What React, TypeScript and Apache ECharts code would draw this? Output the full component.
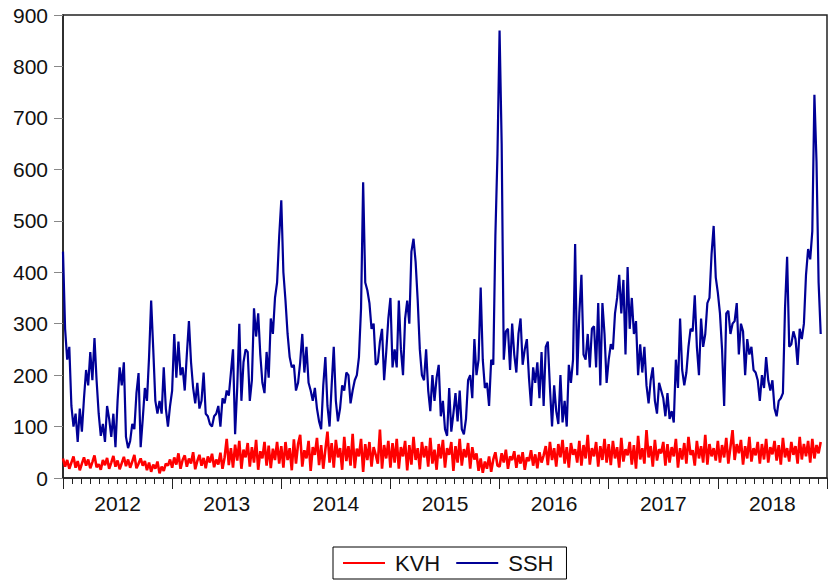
import React, { useEffect, useRef } from "react";
import * as echarts from "echarts";

// Weekly readings (approximate) per year
const ssh2012 = [440,290,230,255,140,100,125,70,135,90,155,210,180,245,190,272,190,125,82,105,70,140,115,80,125,60,150,215,180,225,80,58,72,105,95,165,204,60,115,175,150,235,345,250,150,125,150,125,215,135,100,140];
const ssh2013 = [170,280,195,265,200,215,170,240,305,225,175,145,185,135,150,205,125,120,105,100,120,125,140,100,155,145,170,160,205,250,85,175,300,150,225,250,245,150,190,330,275,320,240,185,165,245,195,310,280,350,380,470];
const ssh2014 = [540,400,345,280,235,215,220,170,185,225,280,205,255,185,170,150,175,135,110,95,180,235,140,100,180,255,150,110,135,180,170,205,200,145,170,190,200,235,330,575,380,365,340,290,300,220,225,265,290,190,245,310];
const ssh2015 = [350,215,250,215,345,250,200,310,345,300,440,465,420,345,250,200,190,250,170,130,200,150,195,220,120,150,95,82,175,90,125,165,110,170,95,85,115,190,200,155,270,200,230,370,230,175,185,140,230,220,470,630];
const ssh2016 = [870,650,230,285,290,210,300,240,205,280,310,220,250,270,195,140,215,185,225,155,245,140,255,265,175,100,180,130,105,200,108,150,100,220,185,230,455,200,320,395,240,230,280,215,290,295,215,340,180,340,280,185];
const ssh2017 = [230,260,250,320,350,395,320,385,240,410,290,350,280,305,200,260,205,255,180,145,190,215,150,125,185,170,155,120,165,115,130,108,230,175,310,210,180,205,255,290,285,355,255,200,310,255,280,340,350,435,490,390];
const ssh2018 = [360,320,250,140,320,325,280,300,305,340,240,300,285,200,270,240,255,210,205,190,150,200,175,235,190,170,190,135,120,150,155,165,330,430,255,260,285,270,220,290,270,300,395,445,425,480,745,615,380,280];

const kvh2012 = [38,22,35,18,30,42,20,33,15,28,40,24,36,19,31,44,21,27,16,35,25,39,18,30,43,22,34,17,29,41,23,36,20,32,45,19,28,38,24,33,15,30,12,26,18,32,9,22,14,28,24,36];
const kvh2013 = [20,40,26,48,18,35,44,22,38,28,50,17,33,45,24,39,19,42,30,47,21,36,26,49,18,40,76,25,58,20,65,34,72,18,55,40,68,22,60,30,74,16,52,38,70,24,63,19,57,35,70,28];
const kvh2014 = [62,20,70,35,58,15,75,28,66,84,22,54,38,72,14,60,45,78,25,64,18,55,90,30,68,20,74,40,58,16,80,33,62,24,86,19,57,42,76,12,66,35,70,22,60,45,28,94,18,64,38,72];
const kvh2015 = [20,68,30,76,18,60,42,72,15,64,26,80,35,58,17,70,40,62,22,78,28,55,16,66,38,74,20,58,45,70,14,62,30,76,24,56,40,68,18,60,36,48,14,38,10,32,18,42,12,36,50,24];
const kvh2016 = [22,48,30,55,18,42,35,52,20,45,28,50,16,40,33,54,24,46,19,50,30,44,62,25,70,35,58,22,66,40,74,28,60,20,68,45,56,30,72,24,64,38,84,26,58,42,70,22,62,35,76,30];
const kvh2017 = [66,25,72,38,60,20,78,32,56,44,70,26,64,18,82,36,58,28,93,40,62,22,74,34,56,48,70,24,66,30,60,42,76,20,58,36,68,28,80,45,54,24,72,38,62,30,84,26,66,42,58,34];
const kvh2018 = [72,30,64,40,78,28,60,93,35,66,48,74,26,62,38,80,32,58,44,70,28,66,36,76,30,60,46,72,34,64,26,78,40,58,32,70,45,62,28,80,36,66,42,72,30,76,38,64,48,70];

const years = [2012, 2013, 2014, 2015, 2016, 2017, 2018];
const sshByYear = [ssh2012, ssh2013, ssh2014, ssh2015, ssh2016, ssh2017, ssh2018];
const kvhByYear = [kvh2012, kvh2013, kvh2014, kvh2015, kvh2016, kvh2017, kvh2018];

const yTicks = { min: 0, max: 900, interval: 100 };

function toPoints(byYear: number[][]): [number, number][] {
  const out: [number, number][] = [];
  byYear.forEach((arr, yi) => {
    arr.forEach((v, w) => out.push([years[yi] + w / 52, v]));
  });
  return out;
}

const FONT = "'Liberation Sans', Arial, Helvetica, sans-serif";

export default function App() {
  const ref = useRef<HTMLDivElement>(null);
  useEffect(() => {
    if (!ref.current) return;
    const chart = echarts.init(ref.current, undefined, { renderer: "svg" });
    chart.setOption({
      animation: false,
      backgroundColor: "#ffffff",
      textStyle: { fontFamily: FONT },
      grid: {
        left: 63,
        top: 15,
        right: -5,
        bottom: 105,
        show: true,
        borderColor: "#222",
        borderWidth: 1.5,
      },
      legend: {
        left: 333,
        bottom: 4,
        orient: "horizontal",
        data: [
          { name: "KVH", icon: "rect" },
          { name: "SSH", icon: "rect" },
        ],
        itemWidth: 42,
        itemHeight: 2,
        itemGap: 16,
        padding: [5, 13, 5, 10],
        borderColor: "#000",
        borderWidth: 1,
        textStyle: { fontSize: 22, color: "#111", fontFamily: FONT, padding: [0, 0, 0, 5] },
      },
      xAxis: [
        {
          type: "value",
          min: 2012,
          max: 2019,
          interval: 1,
          axisLine: { show: true, lineStyle: { color: "#222", width: 1.5 } },
          axisTick: { show: true, length: 11, lineStyle: { color: "#222", width: 1 } },
          minorTick: { show: true, splitNumber: 12, length: 6, lineStyle: { color: "#222", width: 1 } },
          axisLabel: { show: false },
          splitLine: { show: false },
          minorSplitLine: { show: false },
        },
        {
          type: "value",
          min: 2012,
          max: 2019,
          interval: 0.5,
          position: "bottom",
          axisLine: { show: false },
          axisTick: { show: false },
          splitLine: { show: false },
          axisLabel: {
            show: true,
            margin: 15,
            fontSize: 21,
            color: "#111",
            fontFamily: FONT,
            formatter: (v: number) =>
              Math.abs((v % 1) - 0.5) < 1e-6 ? String(Math.floor(v)) : "",
          },
        },
      ],
      yAxis: {
        type: "value",
        min: yTicks.min,
        max: yTicks.max,
        interval: yTicks.interval,
        axisLine: { show: true, lineStyle: { color: "#222", width: 1.5 } },
        axisTick: { show: true, length: 9, lineStyle: { color: "#888", width: 1 } },
        axisLabel: { margin: 15, fontSize: 21, color: "#111", fontFamily: FONT },
        splitLine: { show: false },
      },
      series: [
        {
          name: "KVH",
          type: "line",
          xAxisIndex: 0,
          data: toPoints(kvhByYear),
          showSymbol: false,
          symbol: "none",
          lineStyle: { color: "#ff0000", width: 2.6 },
          itemStyle: { color: "#ff0000" },
        },
        {
          name: "SSH",
          type: "line",
          xAxisIndex: 0,
          data: toPoints(sshByYear),
          showSymbol: false,
          symbol: "none",
          lineStyle: { color: "#000096", width: 2.2 },
          itemStyle: { color: "#000096" },
        },
      ],
    });
    return () => chart.dispose();
  }, []);
  return (
    <div
      ref={ref}
      style={{ position: "absolute", left: 0, top: 0, width: 830, height: 583 }}
    />
  );
}
